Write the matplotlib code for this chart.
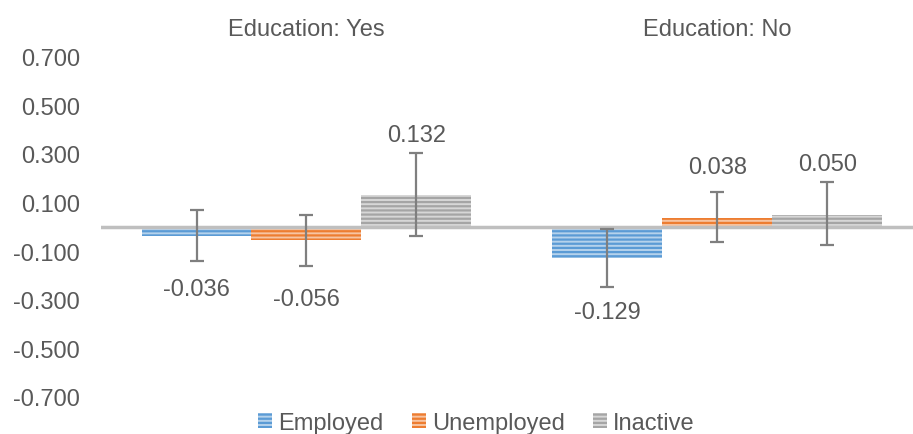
import numpy as np
import matplotlib
matplotlib.use("Agg")
import matplotlib.pyplot as plt
from matplotlib.colors import to_rgb

plt.rcParams['font.family'] = ['Liberation Sans', 'DejaVu Sans']
plt.rcParams['hatch.linewidth'] = 1.6

groups = ["Education: Yes", "Education: No"]
series = ["Employed", "Unemployed", "Inactive"]
colors = ["#5B9BD5", "#ED7D31", "#A5A5A5"]

# values per series: [Yes, No]
values = {
    "Employed": [-0.036, -0.129],
    "Unemployed": [-0.056, 0.038],
    "Inactive": [0.132, 0.050],
}
err_low = {
    "Employed": [-0.139, -0.246],
    "Unemployed": [-0.160, -0.063],
    "Inactive": [-0.036, -0.077],
}
err_high = {
    "Employed": [0.070, -0.011],
    "Unemployed": [0.047, 0.143],
    "Inactive": [0.304, 0.184],
}
# where the value labels sit (data units)
label_y = {
    "Employed": [-0.256, -0.351],
    "Unemployed": [-0.297, 0.247],
    "Inactive": [0.379, 0.260],
}

TXT = "#595959"


def lighten(c, f):
    r, g, b = to_rgb(c)
    return (r + (1 - r) * f, g + (1 - g) * f, b + (1 - b) * f)


fig = plt.figure(figsize=(9.13, 4.35), dpi=100)
ax = fig.add_axes([101 / 913, 37 / 435, 812 / 913, 340.5 / 435])

x = np.arange(len(groups))
w = 0.2676
for i, s in enumerate(series):
    xs = x + (i - 1) * w
    v = np.array(values[s])
    ax.bar(xs, v, w, facecolor=lighten(colors[i], 0.55), edgecolor=colors[i],
           hatch="----", linewidth=0, label=s, zorder=2)
    lo = v - np.array(err_low[s])
    hi = np.array(err_high[s]) - v
    ax.errorbar(xs, v, yerr=[lo, hi], fmt="none", ecolor="#7F7F7F",
                elinewidth=1.6, capsize=5, capthick=1.6, zorder=4)
    for xx, vv, ly in zip(xs, v, label_y[s]):
        ax.text(xx, ly, f"{vv:.3f}", ha="center", va="center",
                fontsize=17, color=TXT, zorder=5)

ax.axhline(0, color="#BFBFBF", lw=2.5, zorder=3)

# facet titles over each group
for xx, g in zip(x, groups):
    fig.text((101 + 411 * (xx + 0.5)) / 913, (435 - 30) / 435, g,
             ha="center", va="center", fontsize=17, color=TXT)

ax.set_xlim(-0.5, 1.476)
ax.set_ylim(-0.7, 0.7)
ticks = np.arange(-0.7, 0.71, 0.2)
ax.set_yticks(ticks)
ax.set_yticklabels([f"{t:.3f}" for t in ticks])
ax.tick_params(axis="y", length=0, pad=15, labelsize=17, labelcolor=TXT)
ax.set_xticks([])
for sp in ax.spines.values():
    sp.set_visible(False)

fig.legend(loc="center", bbox_to_anchor=(476.5 / 913, 11 / 435), ncol=3,
           frameon=False, fontsize=17, labelcolor=TXT, handlelength=0.6,
           handleheight=0.6, handletextpad=0.25, columnspacing=1.2,
           borderpad=0)

fig.savefig("out.png", dpi=100)
